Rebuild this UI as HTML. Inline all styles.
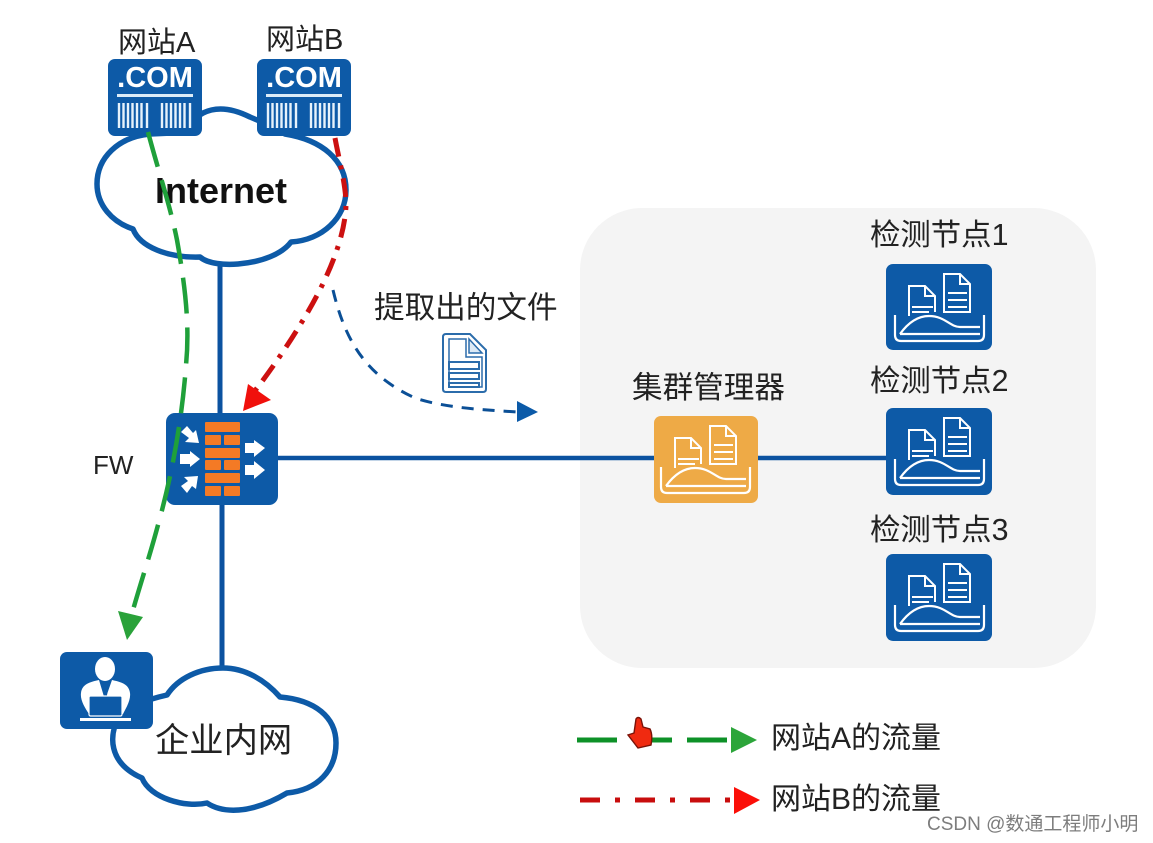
<!DOCTYPE html>
<html><head><meta charset="utf-8">
<style>
html,body{margin:0;padding:0;background:#fff;width:1153px;height:843px;overflow:hidden}
svg{display:block}
text{font-family:"Liberation Sans","Noto Sans CJK SC",sans-serif;fill:#222}
</style></head><body>
<svg width="1153" height="843" viewBox="0 0 1153 843" xmlns="http://www.w3.org/2000/svg">
<defs>
<g id="det" fill="none" stroke="#fff" stroke-width="2">
  <path d="M22 52V22H38L48 32V48"/><path d="M38 22V32H48"/>
  <path d="M25 43H46M25 48H42"/>
  <path d="M57 48V10H73L83 20V48Z"/><path d="M73 10V20H83"/>
  <path d="M61 29H80M61 36H80M61 43H80"/>
  <path d="M8 51V71Q8 77 14 77H91Q97 77 97 71V51" stroke-width="2.200"/>
  <path d="M13 70Q26 52 42 52C58 52 63 63 73 63H93M13 70H93" stroke-width="2.200"/>
</g>
<g id="srv">
  <rect x="0" y="0" width="94" height="77" rx="7" fill="#0d5aa7"/>
  <text x="47" y="28" text-anchor="middle" font-size="29" font-weight="bold" style="fill:#fff">.COM</text>
  <rect x="9" y="35" width="76" height="3" fill="#dcecf8"/>
  <path d="M11 44V69M15.500 44V69M20 44V69M24.500 44V69M29 44V69M33.500 44V69M39 44V69M54 44V69M58.500 44V69M63 44V69M67.500 44V69M72 44V69M76.500 44V69M82 44V69" stroke="#e6f2fb" stroke-width="2.400"/>
</g>
</defs>

<rect x="580" y="208" width="516" height="460" rx="62" fill="#f4f4f4"/>

<!-- links -->
<path d="M220 262V415" stroke="#0b52a0" stroke-width="5"/>
<path d="M222 503V670" stroke="#0b52a0" stroke-width="5"/>
<path d="M276 458H656M756 458H888" stroke="#0b52a0" stroke-width="4.500"/>

<!-- Internet cloud -->
<path d="M150 134C118 137 97 158 97 184C97 205 112 222 133 229C140 247 168 258 200 257C208 264 225 265 238 264C262 262 282 254 291 242C322 240 346 218 346 190C346 160 322 140 285 134C275 128 262 122 250 117C230 107 215 107 203 113C195 118 180 124 172 133Z" fill="#fff" stroke="#0d5aa7" stroke-width="5.500" stroke-linejoin="round"/>
<!-- Enterprise cloud -->
<path d="M120 715C108 735 108 763 142 778C150 798 185 808 207 803C222 813 250 815 287 793C318 790 336 770 336 743C336 717 315 700 280 697C265 680 245 668 223 668C200 668 178 678 167 695C145 700 125 708 120 715Z" fill="#fff" stroke="#0d5aa7" stroke-width="5.500" stroke-linejoin="round"/>

<!-- servers -->
<use href="#srv" x="108" y="59"/>
<use href="#srv" x="257" y="59"/>
<text x="118" y="52" font-size="29">网站A</text>
<text x="266" y="49" font-size="29">网站B</text>
<text x="155" y="203" font-size="36" font-weight="bold" style="fill:#111">Internet</text>
<text x="155" y="752" font-size="34.300">企业内网</text>

<!-- FW -->
<text x="93" y="474" font-size="26">FW</text>
<rect x="166" y="413" width="112" height="92" rx="9" fill="#0d5aa7"/>
<g fill="#f47a25">
  <rect x="205" y="422" width="35" height="10" rx="1"/>
  <rect x="205" y="435" width="16" height="10" rx="1"/><rect x="224" y="435" width="16" height="10" rx="1"/>
  <rect x="205" y="448" width="35" height="10" rx="1"/>
  <rect x="205" y="460" width="16" height="10" rx="1"/><rect x="224" y="460" width="16" height="10" rx="1"/>
  <rect x="205" y="473" width="35" height="10" rx="1"/>
  <rect x="205" y="486" width="16" height="10" rx="1"/><rect x="224" y="486" width="16" height="10" rx="1"/>
</g>
<g fill="#fff">
  <path d="M180 454H190V451L200 459L190 467V464H180Z"/>
  <path d="M245 443H254V440L265 448L254 457V453H245Z"/>
  <path d="M245 465H254V461L265 470L254 479V475H245Z"/>
  <path d="M181 432L187 426L193 433L196 430L199 443L185 442L189 438Z"/>
  <path d="M187 493L181 486L188 481L184 477L198 476L196 489L192 486Z"/>
</g>

<!-- Extracted file -->
<text x="374" y="318" font-size="30.600">提取出的文件</text>
<g>
  <path d="M446 334H470L486 350V389Q486 392 483 392H446Q443 392 443 389V337Q443 334 446 334Z" fill="#fff" stroke="#2b6cab" stroke-width="2"/>
  <path d="M449 339H466V357H482V387H449Z" fill="#fff" stroke="#2b6cab" stroke-width="1.500"/>
  <path d="M469 339L482 353H469Z" fill="#dce9f5" stroke="#2b6cab" stroke-width="1.500"/>
  <path d="M449 362H479V369H449ZM449 373H479V379H449ZM449 383H479V387H449Z" fill="#fff" stroke="#2b6cab" stroke-width="2"/>
</g>
<path d="M333 290C345 340 365 375 415 398C445 408 485 410 518 412" fill="none" stroke="#0b4f96" stroke-width="3" stroke-dasharray="12 9"/>
<path d="M517 401L538 412L517 422Z" fill="#0b5aa8"/>

<!-- Manager -->
<text x="632" y="398" font-size="30.600">集群管理器</text>
<rect x="654" y="416" width="104" height="87" rx="7" fill="#eeaa46"/>
<use href="#det" x="653" y="416"/>

<!-- Nodes -->
<text x="870" y="245" font-size="30.400">检测节点1</text>
<rect x="886" y="264" width="106" height="86" rx="7" fill="#0d5aa7"/>
<use href="#det" x="887" y="264"/>
<text x="870" y="391" font-size="30.400">检测节点2</text>
<rect x="886" y="408" width="106" height="87" rx="7" fill="#0d5aa7"/>
<use href="#det" x="887" y="408"/>
<text x="870" y="540" font-size="30.400">检测节点3</text>
<rect x="886" y="554" width="106" height="87" rx="7" fill="#0d5aa7"/>
<use href="#det" x="887" y="554"/>

<!-- Person -->
<rect x="60" y="652" width="93" height="77" rx="7" fill="#0d5aa7"/>
<ellipse cx="105" cy="669" rx="10" ry="12" fill="#fff"/>
<path d="M81 693C82 684 90 682 99 680L105 700L112 680C121 682 129 684 130 693C131 700 126 708 123 714H89C85 708 80 700 81 693Z" fill="#fff"/>
<path d="M103 682H108L107 696H104Z" fill="#0d5aa7"/>
<rect x="89" y="696" width="33" height="20" rx="1.500" fill="#0d5aa7" stroke="#fff" stroke-width="1.200"/>
<rect x="80" y="718" width="51" height="3" fill="#fff"/>

<!-- Flows -->
<path d="M148 132C158 170 170 205 177 240C185 285 190 325 186 365C182 420 172 475 158 525C150 555 140 585 133 610" fill="none" stroke="#1fa03a" stroke-width="4.500" stroke-dasharray="36 14"/>
<path d="M118 611L143 617L127 640Z" fill="#2aa23a"/>
<path d="M335 138C339 160 346 185 346 205C345 240 325 285 300 325C285 350 265 378 254 392" fill="none" stroke="#cc1010" stroke-width="5" stroke-dasharray="19 9 4 9"/>
<path d="M243 411L248 384L271 400Z" fill="#f0100c"/>

<!-- Legend -->
<path d="M577 740H617M650 740H672M687 740H727" stroke="#0d9128" stroke-width="5"/>
<path d="M731 727L757 740L731 753Z" fill="#2ca53a"/>
<path d="M580 800H600M615 800H620M635 800H655M670 800H675M690 800H710M725 800H730" stroke="#c80d0d" stroke-width="5"/>
<path d="M734 787L760 800L734 814Z" fill="#fb0f08"/>
<text x="771" y="748" font-size="30">网站A的流量</text>
<text x="771" y="809" font-size="30">网站B的流量</text>

<!-- Cursor -->
<path d="M636 719Q638 716 641 719L643 727L650 729Q653 735 651 745L638 748L628 735L634 733Z" fill="#f02a10" stroke="#7a1208" stroke-width="1.400"/>

<text x="927" y="830" font-size="19" style="fill:#7d7d7d">CSDN @数通工程师小明</text>
</svg>
</body></html>
